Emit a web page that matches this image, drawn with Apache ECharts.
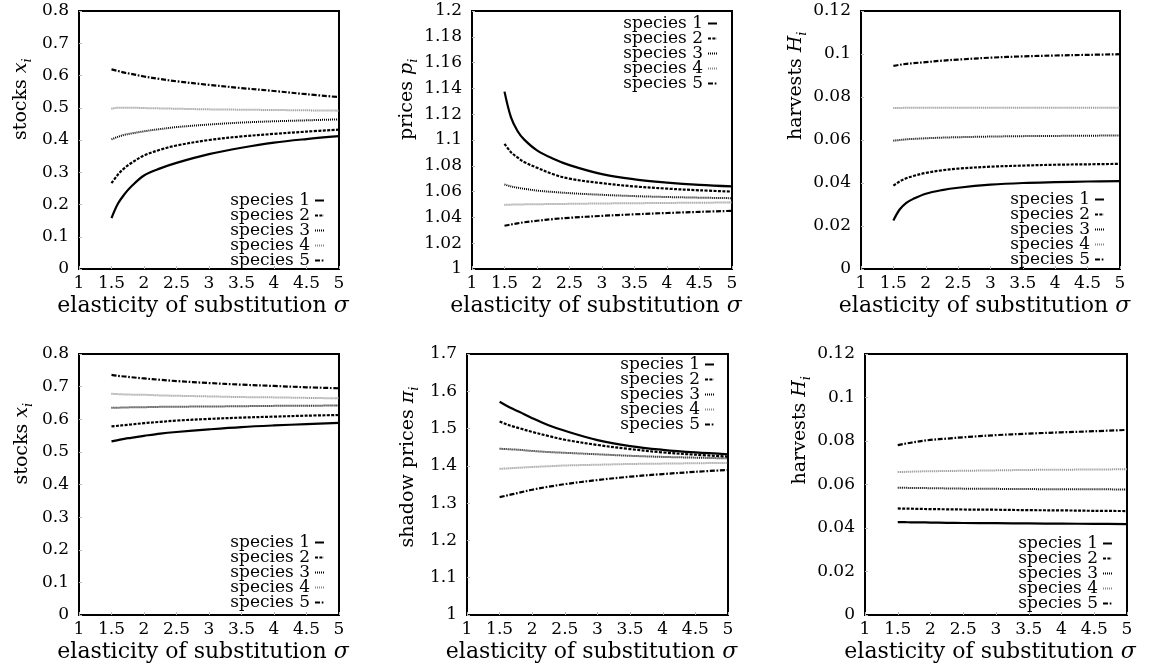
<!DOCTYPE html>
<html>
<head>
<meta charset="utf-8">
<script src="https://cdn.jsdelivr.net/npm/echarts@6/dist/echarts.min.js"></script>
<style>
html,body{margin:0;padding:0;background:#fff;}
#chart{width:1156px;height:666px;}
</style>
</head>
<body>
<div id="chart"></div>
<script>
// ---------------- data ----------------
const sigma = [1.5, 1.6, 1.7, 1.8, 2, 2.25, 2.5, 3, 3.5, 4, 4.5, 5];
const speciesNames = ['species 1', 'species 2', 'species 3', 'species 4', 'species 5'];

// top row
const stocksTop = [
  [0.158, 0.203, 0.232, 0.255, 0.290, 0.312, 0.329, 0.356, 0.376, 0.392, 0.403, 0.412],
  [0.266, 0.293, 0.313, 0.328, 0.352, 0.370, 0.383, 0.400, 0.411, 0.419, 0.426, 0.432],
  [0.402, 0.410, 0.416, 0.420, 0.427, 0.434, 0.440, 0.448, 0.454, 0.458, 0.461, 0.464],
  [0.497, 0.500, 0.500, 0.500, 0.499, 0.498, 0.497, 0.495, 0.494, 0.493, 0.492, 0.491],
  [0.619, 0.614, 0.609, 0.605, 0.597, 0.589, 0.582, 0.571, 0.561, 0.552, 0.542, 0.533]
];
const pricesTop = [
  [1.1375, 1.1175, 1.1070, 1.1005, 1.0920, 1.0855, 1.0805, 1.0735, 1.0695, 1.0670, 1.0652, 1.0640],
  [1.0970, 1.0905, 1.0865, 1.0830, 1.0785, 1.0735, 1.0700, 1.0665, 1.0640, 1.0623, 1.0610, 1.0600],
  [1.0655, 1.0640, 1.0630, 1.0622, 1.0608, 1.0597, 1.0588, 1.0575, 1.0565, 1.0558, 1.0553, 1.0549],
  [1.0497, 1.0499, 1.0500, 1.0501, 1.0502, 1.0504, 1.0505, 1.0508, 1.0510, 1.0512, 1.0514, 1.0515],
  [1.0335, 1.0345, 1.0354, 1.0362, 1.0374, 1.0387, 1.0397, 1.0412, 1.0424, 1.0434, 1.0443, 1.0451]
];
const harvestsTop = [
  [0.0226, 0.0278, 0.0308, 0.0325, 0.0350, 0.0367, 0.0378, 0.0392, 0.0400, 0.0404, 0.0407, 0.0409],
  [0.0388, 0.0408, 0.0422, 0.0432, 0.0447, 0.0459, 0.0467, 0.0476, 0.0481, 0.0485, 0.0487, 0.0489],
  [0.0597, 0.0600, 0.0603, 0.0605, 0.0608, 0.0611, 0.0613, 0.0616, 0.0618, 0.0619, 0.0620, 0.0621],
  [0.0749, 0.0749, 0.0750, 0.0750, 0.0750, 0.0750, 0.0750, 0.0750, 0.0750, 0.0750, 0.0750, 0.0750],
  [0.0945, 0.0950, 0.0954, 0.0957, 0.0962, 0.0969, 0.0974, 0.0983, 0.0989, 0.0993, 0.0996, 0.0999]
];

// bottom row
const stocksBottom = [
  [0.532, 0.536, 0.540, 0.543, 0.549, 0.556, 0.561, 0.569, 0.576, 0.581, 0.585, 0.589],
  [0.578, 0.580, 0.582, 0.584, 0.588, 0.592, 0.596, 0.601, 0.605, 0.608, 0.611, 0.613],
  [0.635, 0.6355, 0.636, 0.6365, 0.637, 0.638, 0.6385, 0.639, 0.640, 0.641, 0.6415, 0.642],
  [0.678, 0.677, 0.676, 0.6755, 0.675, 0.673, 0.672, 0.670, 0.668, 0.667, 0.6655, 0.664],
  [0.736, 0.733, 0.731, 0.729, 0.725, 0.721, 0.717, 0.711, 0.706, 0.702, 0.698, 0.695]
];
const shadowPricesBottom = [
  [1.572, 1.562, 1.553, 1.545, 1.528, 1.509, 1.494, 1.469, 1.453, 1.443, 1.436, 1.431],
  [1.519, 1.512, 1.506, 1.501, 1.491, 1.480, 1.470, 1.456, 1.445, 1.436, 1.430, 1.425],
  [1.446, 1.445, 1.444, 1.443, 1.440, 1.437, 1.435, 1.431, 1.427, 1.424, 1.422, 1.420],
  [1.392, 1.393, 1.394, 1.395, 1.397, 1.399, 1.401, 1.403, 1.405, 1.406, 1.407, 1.408],
  [1.316, 1.320, 1.324, 1.328, 1.336, 1.344, 1.351, 1.362, 1.371, 1.378, 1.384, 1.389]
];
const harvestsBottom = [
  [0.0427, 0.0427, 0.0426, 0.0426, 0.0425, 0.0424, 0.0423, 0.0422, 0.0421, 0.0420, 0.0419, 0.0418],
  [0.0490, 0.0489, 0.0489, 0.0488, 0.0487, 0.0486, 0.0485, 0.0484, 0.0482, 0.0481, 0.0479, 0.0478],
  [0.0585, 0.0585, 0.0584, 0.0584, 0.0583, 0.0582, 0.0581, 0.0580, 0.0579, 0.0578, 0.0578, 0.0577],
  [0.0657, 0.0658, 0.0659, 0.0660, 0.0661, 0.0662, 0.0663, 0.0665, 0.0667, 0.0668, 0.0669, 0.0670],
  [0.0781, 0.0787, 0.0792, 0.0797, 0.0805, 0.0811, 0.0817, 0.0827, 0.0834, 0.0840, 0.0845, 0.0851]
];

// axis ranges [min, max, interval]
const xRange = [1, 5, 0.5];
const stocksRange = [0, 0.8, 0.1];
const pricesRange = [1, 1.2, 0.02];
const harvestsRange = [0, 0.12, 0.02];
const shadowRange = [1, 1.7, 0.1];

// axis titles: [word, math symbol]
const xTitle = ['elasticity of substitution ', 'σ'];
const stocksTitle = ['stocks ', 'x'];
const pricesTitle = ['prices ', 'p'];
const harvestsTitle = ['harvests ', 'H'];
const shadowTitle = ['shadow prices ', 'π'];

// ---------------- layout & style ----------------
const F = 'DejaVu Serif';
const panels = [
  {vals: stocksTop, range: stocksRange, title: stocksTitle,
   grid: {left: 79, top: 11, width: 260, height: 258}, nameGap: 45, shift: 0, legend: {right: 831, top: 192}},
  {vals: pricesTop, range: pricesRange, title: pricesTitle,
   grid: {left: 472, top: 11, width: 260, height: 258}, nameGap: 52, shift: 0, legend: {right: 438, top: 15}},
  {vals: harvestsTop, range: harvestsRange, title: harvestsTitle,
   grid: {left: 861, top: 11, width: 259, height: 258}, nameGap: 52, shift: 0, legend: {right: 51, top: 191}},
  {vals: stocksBottom, range: stocksRange, title: stocksTitle,
   grid: {left: 79, top: 354, width: 260, height: 261}, nameGap: 44, shift: 0, legend: {right: 831, top: 534}},
  {vals: shadowPricesBottom, range: shadowRange, title: shadowTitle,
   grid: {left: 467, top: 354, width: 261, height: 261}, nameGap: 46, shift: -63, legend: {right: 441, top: 356}},
  {vals: harvestsBottom, range: harvestsRange, title: harvestsTitle,
   grid: {left: 865, top: 354, width: 262, height: 261}, nameGap: 52, shift: 0, legend: {right: 43, top: 535}}
];

const lineStyles = [
  {color: '#000', width: 2.2, type: 'solid'},
  {color: '#000', width: 2.2, type: [3, 1.4]},
  {color: '#000', width: 2, type: [1, 1]},
  {color: '#888', width: 2, type: [1, 1]},
  {color: '#000', width: 2.2, type: [5, 1.7, 1.7, 1.7]}
];

const grids = [], xAxes = [], yAxes = [], series = [], legends = [];

panels.forEach((p, i) => {
  grids.push(Object.assign({
    show: true, borderColor: '#000', borderWidth: 2, backgroundColor: 'transparent',
    containLabel: false, outerBoundsMode: 'none'
  }, p.grid));

  xAxes.push({
    type: 'value', gridIndex: i,
    min: xRange[0], max: xRange[1], interval: xRange[2],
    splitLine: {show: false},
    axisLine: {show: true, onZero: false, lineStyle: {color: '#000', width: 2}},
    axisTick: {show: true, inside: true, length: 3, lineStyle: {color: '#bbb', width: 1}},
    axisLabel: {fontFamily: F, fontSize: 17, color: '#000', margin: 6, hideOverlap: false},
    name: '{n|' + xTitle[0] + '}{m|' + xTitle[1] + '}',
    nameLocation: 'middle', nameGap: 25, nameMoveOverlap: false,
    nameTextStyle: {
      align: 'center', verticalAlign: 'top', padding: [0, 12, 0, 0],
      rich: {
        n: {fontFamily: F, fontSize: 22, color: '#000', lineHeight: 24},
        m: {fontFamily: F, fontSize: 22, fontStyle: 'italic', color: '#000', lineHeight: 24}
      }
    }
  });

  yAxes.push({
    type: 'value', gridIndex: i,
    min: p.range[0], max: p.range[1], interval: p.range[2],
    splitLine: {show: false},
    axisLine: {show: true, onZero: false, lineStyle: {color: '#000', width: 2}},
    axisTick: {show: true, inside: true, length: 3, lineStyle: {color: '#bbb', width: 1}},
    axisLabel: {fontFamily: F, fontSize: 17, color: '#000', margin: 10, hideOverlap: false},
    name: '{n|' + p.title[0] + '}{m|' + p.title[1] + '}{s|i}',
    nameLocation: 'middle', nameRotate: 90, nameGap: p.nameGap, nameMoveOverlap: false,
    nameTextStyle: {
      align: 'left', verticalAlign: 'bottom', padding: [0, 0, 0, p.shift],
      rich: {
        n: {fontFamily: F, fontSize: 19, color: '#000', lineHeight: 26},
        m: {fontFamily: F, fontSize: 19, fontStyle: 'italic', color: '#000', lineHeight: 26},
        s: {fontFamily: F, fontSize: 13, fontStyle: 'italic', color: '#000', lineHeight: 14, verticalAlign: 'bottom'}
      }
    }
  });

  p.vals.forEach((vals, k) => {
    series.push({
      type: 'line', name: speciesNames[k], xAxisIndex: i, yAxisIndex: i,
      data: sigma.map((x, j) => [x, vals[j]]),
      symbol: 'none', smooth: 0.35,
      lineStyle: {color: lineStyles[k].color, width: lineStyles[k].width, type: lineStyles[k].type, cap: 'butt', join: 'round'},
      itemStyle: {color: lineStyles[k].color},
      emphasis: {disabled: true}, silent: true
    });
  });

  legends.push({
    data: speciesNames, orient: 'vertical', align: 'right',
    right: p.legend.right, top: p.legend.top,
    itemWidth: 9, itemHeight: 4, itemGap: -2, padding: 0,
    selectedMode: false,
    itemStyle: {opacity: 0},
    textStyle: {fontFamily: F, fontSize: 17, color: '#000', lineHeight: 15}
  });
});

const chart = echarts.init(document.getElementById('chart'), null, {renderer: 'canvas'});
chart.setOption({
  animation: false,
  backgroundColor: '#fff',
  grid: grids, xAxis: xAxes, yAxis: yAxes, series: series, legend: legends,
  tooltip: {show: false}
});
</script>
</body>
</html>
